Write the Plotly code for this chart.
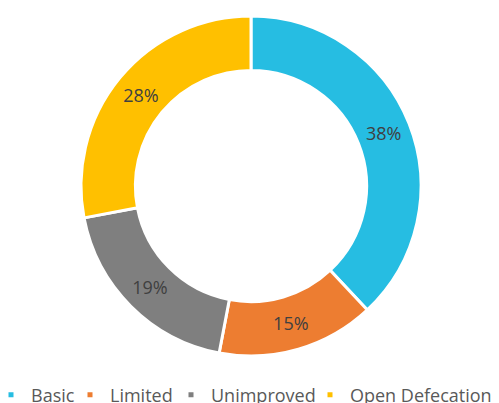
import plotly.graph_objects as go

categories = ["Basic", "Limited", "Unimproved", "Open Defecation"]
shares = [38, 15, 19, 28]
colors = ["#26BDE2", "#ED7D31", "#7F7F7F", "#FFC000"]

W, H = 499, 403
OFF = 8  # page body margin: the figure sits 8px right/down in the window

fig = go.Figure()

# ring spans 81..421 horizontally and 16..356 vertically in the window
fig.add_trace(go.Pie(
    labels=categories,
    values=shares,
    hole=0.68,
    sort=False,
    direction="clockwise",
    rotation=0,
    marker=dict(colors=colors, line=dict(color="white", width=3)),
    texttemplate="%{value}%",
    textposition="inside",
    insidetextorientation="horizontal",
    textfont=dict(family="Open Sans", size=18, color="#404040"),
    domain=dict(x=[(81 - OFF) / W, (421 - OFF) / W],
                y=[(H - 356 + OFF) / H, (H - 16 + OFF) / H]),
    showlegend=False,
    hoverinfo="label+percent",
))

# one legend per entry so spacing can follow the original layout
legend_ids = ["legend", "legend2", "legend3", "legend4"]
label_left = [31, 110, 211, 350]   # window px where each label text starts

for name, col, lid in zip(categories, colors, legend_ids):
    fig.add_trace(go.Scatter(
        x=[None], y=[None], mode="markers", name=name, legend=lid,
        marker=dict(symbol="square", size=5, color=col),
    ))

legend_style = dict(
    orientation="h",
    xanchor="left",
    yanchor="middle",
    y=(H - 395 + OFF) / H,
    font=dict(family="Open Sans", size=18, color="#595959"),
    itemclick=False,
    bgcolor="rgba(0,0,0,0)",
)

fig.update_layout(
    width=W, height=H,
    margin=dict(l=0, r=0, t=0, b=0, autoexpand=False),
    paper_bgcolor="white",
    plot_bgcolor="white",
    xaxis=dict(visible=False),
    yaxis=dict(visible=False),
    **{lid: dict(legend_style, x=(lx - 40 - OFF) / W)
       for lid, lx in zip(legend_ids, label_left)},
)

fig.write_html("out.html")
